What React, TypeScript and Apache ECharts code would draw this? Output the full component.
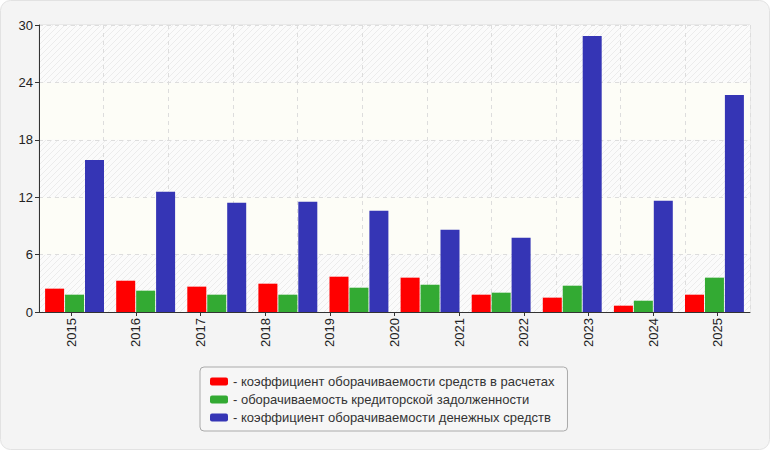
import { useEffect, useRef } from "react";
import * as echarts from "echarts";

// годы на подписи оси
const years = ["2015", "2016", "2017", "2018", "2019", "2020", "2021", "2022", "2023", "2024", "2025"];
// группы столбцов (в исходнике их 10, а подписей 11)
const groups = ["1", "2", "3", "4", "5", "6", "7", "8", "9", "10"];

const settlementTurnover = [2.44, 3.27, 2.65, 2.96, 3.69, 3.59, 1.81, 1.5, 0.66, 1.81];
const payablesTurnover = [1.81, 2.23, 1.81, 1.81, 2.54, 2.85, 2.02, 2.75, 1.18, 3.59];
const cashTurnover = [15.9, 12.57, 11.42, 11.52, 10.58, 8.6, 7.76, 28.86, 11.63, 22.69];

const yTicks = { min: 0, max: 30, interval: 6 };

const FONT = "'Liberation Sans', Arial, sans-serif";

const hatch =
  "data:image/svg+xml;utf8," +
  encodeURIComponent(
    '<svg xmlns="http://www.w3.org/2000/svg" width="6" height="6"><rect width="6" height="6" fill="#fbfbfb"/><path d="M-1,7 L7,-1 M-1,1 L1,-1 M5,7 L7,5" stroke="#ececec" stroke-width="1"/></svg>'
  );

export default function App() {
  const chartRef = useRef<HTMLDivElement>(null);

  useEffect(() => {
    document.body.style.margin = "0";
    if (!chartRef.current) return;
    const chart = echarts.init(chartRef.current, null, { renderer: "svg" });

    const option: any = {
      animation: false,
      textStyle: { fontFamily: FONT },
      graphic: [
        {
          type: "rect",
          z: -10,
          silent: true,
          shape: { x: 0.5, y: 0.5, width: 769, height: 449, r: 10 },
          style: { fill: "#f4f4f4", stroke: "#e2e2e2", lineWidth: 1 },
        },
      ],
      grid: {
        left: 39,
        right: 20,
        top: 25,
        bottom: 138,
        show: true,
        borderColor: "#dddddd",
        borderWidth: 1,
        backgroundColor: "#fbfbfb",
      },
      legend: {
        orient: "vertical",
        left: 200,
        top: 367,
        padding: [8, 13, 7, 10],
        itemGap: 5,
        itemWidth: 18,
        itemHeight: 8,
        icon: "roundRect",
        backgroundColor: "#f6f6f6",
        borderColor: "#aaaaaa",
        borderWidth: 1,
        borderRadius: 4,
        formatter: "- {name}",
        textStyle: { fontSize: 13, color: "#333333", fontFamily: FONT },
        selectedMode: false,
      },
      xAxis: [
        {
          type: "category",
          data: groups,
          show: false,
        },
        {
          type: "category",
          data: years,
          position: "bottom",
          axisLine: { show: true, lineStyle: { color: "#333333" } },
          axisTick: { show: true, alignWithLabel: true, length: 4, lineStyle: { color: "#333333" } },
          axisLabel: { rotate: 90, fontSize: 13, color: "#222222", margin: 6, fontFamily: FONT },
          splitLine: { show: true, interval: 0, lineStyle: { color: "#dddddd", type: [4, 4] } },
        },
      ],
      yAxis: {
        type: "value",
        ...yTicks,
        axisLine: { show: true, lineStyle: { color: "#333333" } },
        axisTick: { show: true, length: 4, lineStyle: { color: "#333333" } },
        axisLabel: { fontSize: 13, color: "#222222", margin: 6, fontFamily: FONT },
        splitLine: { lineStyle: { color: "#dddddd", type: [4, 4] } },
        splitArea: {
          show: true,
          areaStyle: {
            color: [
              { image: hatch, repeat: "repeat" },
              "#fdfdf7",
            ],
          },
        },
      },
      series: [
        {
          name: "коэффициент оборачиваемости средств в расчетах",
          type: "bar",
          xAxisIndex: 0,
          data: settlementTurnover,
          barWidth: 19,
          barGap: "5%",
          itemStyle: { color: "#ff0000" },
        },
        {
          name: "оборачиваемость кредиторской задолженности",
          type: "bar",
          xAxisIndex: 0,
          data: payablesTurnover,
          barWidth: 19,
          barGap: "5%",
          itemStyle: { color: "#33aa33" },
        },
        {
          name: "коэффициент оборачиваемости денежных средств",
          type: "bar",
          xAxisIndex: 0,
          data: cashTurnover,
          barWidth: 19,
          barGap: "5%",
          itemStyle: { color: "#3535b5" },
        },
      ],
    };

    chart.setOption(option);
    return () => {
      chart.dispose();
    };
  }, []);

  return <div ref={chartRef} style={{ width: 770, height: 450 }} />;
}
